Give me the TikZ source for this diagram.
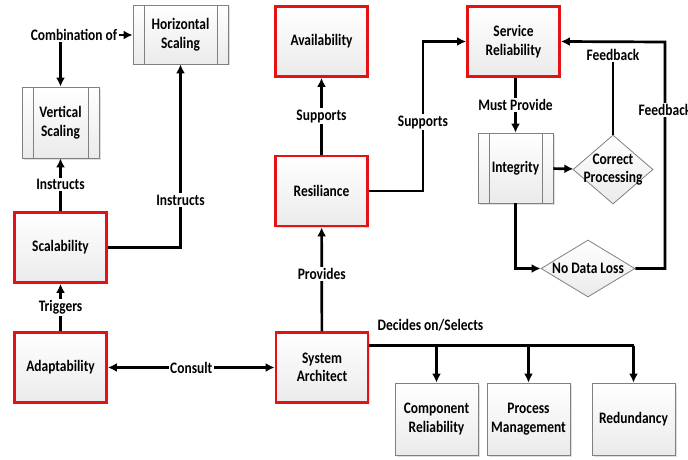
\documentclass[tikz,border=0pt]{standalone}
\usepackage{fontspec}
\setmainfont{Carlito}[FakeStretch=0.84]
\usetikzlibrary{arrows.meta,shapes.geometric,shadows}
\definecolor{boxred}{RGB}{228,18,18}
\definecolor{boxgray}{RGB}{128,128,128}

\begin{document}
\begin{tikzpicture}[x=1pt, y=-1pt, >={Latex[length=9pt,width=9pt]},
    font=\bfseries\fontsize{16}{18.5}\selectfont,
    box/.style={rectangle, align=center, inner sep=2pt, top color=white, bottom color=gray!16,
        drop shadow={opacity=0.25, shadow xshift=1.5pt, shadow yshift=-1.5pt}},
    redbox/.style={box, draw=boxred, line width=2.8pt, minimum width=92pt, minimum height=70pt},
    graybox/.style={box, draw=boxgray, line width=0.8pt},
    procbox/.style={graybox, path picture={
        \draw[boxgray, line width=0.8pt] ([xshift=11pt]path picture bounding box.north west) -- ([xshift=11pt]path picture bounding box.south west);
        \draw[boxgray, line width=0.8pt] ([xshift=-11pt]path picture bounding box.north east) -- ([xshift=-11pt]path picture bounding box.south east);}},
    decision/.style={diamond, draw=boxgray, line width=0.8pt, align=center, top color=white, bottom color=gray!16},
    link/.style={line width=2.7pt},
    lbl/.style={fill=white, inner sep=1.5pt}]
    \useasboundingbox (0,0) rectangle (688,460);

    % Escalado
    \node[procbox, minimum width=95pt, minimum height=59pt] (hs) at (180.5,34.5) {Horizontal\\Scaling};
    \node[procbox, minimum width=77pt, minimum height=71pt] (vs) at (60.5,122.5) {Vertical\\Scaling};
    \node[lbl] (comb) at (74,35) {Combination of};
    \node[redbox] (sca) at (60.5,247.5) {Scalability};
    \node[redbox] (adp) at (60.5,367.5) {Adaptability};

    % Columna central
    \node[redbox] (ava) at (321.5,41.5) {Availability};
    \node[redbox] (res) at (321.5,191) {Resiliance};
    \node[redbox] (sa) at (322,367.5) {System\\Architect};

    % Confiabilidad del servicio
    \node[redbox] (sr) at (513.5,41.5) {Service\\Reliability};
    \node[procbox, minimum width=75pt, minimum height=70pt] (int) at (515.5,168) {Integrity};
    \node[decision, shape aspect=1.16, inner sep=-7pt, minimum width=80pt, minimum height=69pt] (cp) at (613,169.5) {Correct\\Processing};
    \node[decision, shape aspect=1.6, inner sep=-3pt, minimum width=94pt, minimum height=57pt] (ndl) at (588,268.5) {No Data Loss};
    \node[lbl] (fb) at (613,55) {Feedback};
    \coordinate (fbtop) at (665,42);

    % Decisiones del arquitecto
    \node[graybox, minimum width=83pt, minimum height=72pt] (cr) at (436.5,419) {Component\\Reliability};
    \node[graybox, minimum width=83pt, minimum height=72pt] (pm) at (528.5,419) {Process\\Management};
    \node[graybox, minimum width=83pt, minimum height=72pt] (red) at (633.5,419) {Redundancy};
    \coordinate (bus) at ([yshift=22pt]sa.east);
    \node[lbl, anchor=south west] (dec) at (376,333) {Decides on/Selects};

    % Conexiones
    \draw[link,->] (comb.east) -- (comb.east -| hs.west);
    \draw[link,->] (comb.south -| vs.north) -- (vs.north);
    \draw[link,->] (sca) -- node[lbl] {Instructs} (vs);
    \draw[link,->] (sca.east) -| node[lbl, pos=0.63] {Instructs} (hs.south);
    \draw[link,->] (adp) -- node[lbl] {Triggers} (sca);
    \draw[link,<->] (adp) -- node[lbl] {Consult} (sa);
    \draw[link,->] (sa) -- node[lbl, pos=0.55] {Provides} (res);
    \draw[link,->] (res) -- node[lbl] {Supports} (ava);
    \draw[link,->] (res.east) -- ++(54,0) |- node[lbl, pos=0.23] {Supports} (sr.west);
    \draw[link,->] (sr.south -| int.north) -- node[lbl] {Must Provide} (int.north);
    \draw[link,->] (int) -- (cp);
    \draw[link] (cp.north) -- (fb.south);
    \draw[link,->] (int.south) |- (ndl.west);
    \draw[link,->] (ndl.east) -| node[lbl, pos=0.85] {Feedback} (fbtop) -- (sr.east);
    \draw[link] (bus) -- (bus -| red.north);
    \draw[link,->] (bus -| cr.north) -- (cr.north);
    \draw[link,->] (bus -| pm.north) -- (pm.north);
    \draw[link,->] (bus -| red.north) -- (red.north);
\end{tikzpicture}
\end{document}
